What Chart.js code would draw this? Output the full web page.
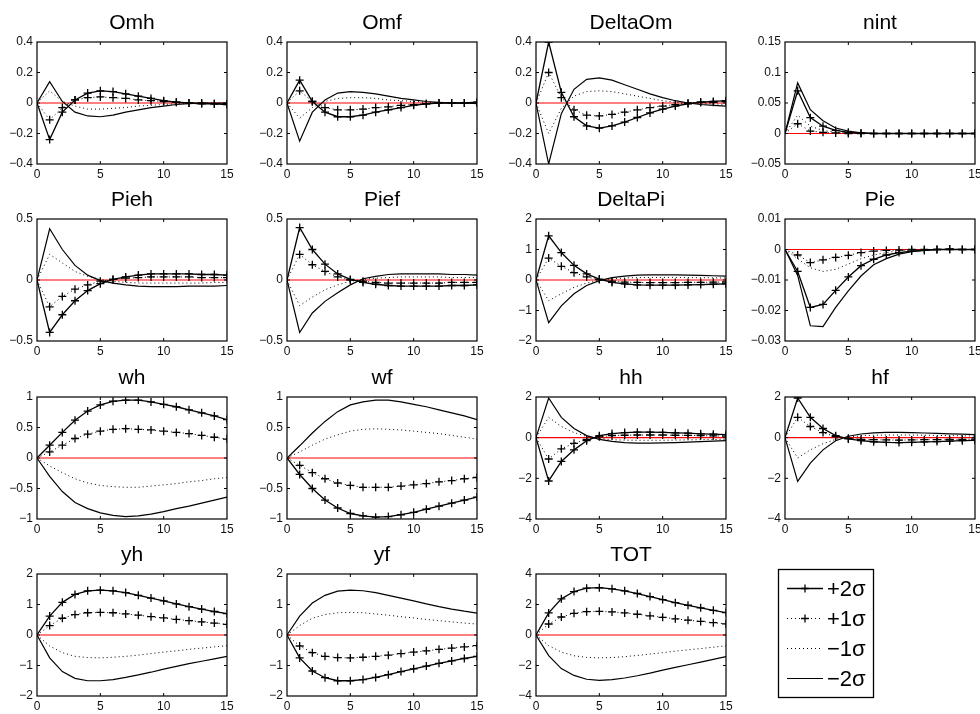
<!DOCTYPE html>
<html>
<head>
<meta charset="utf-8">
<script src="https://cdn.jsdelivr.net/npm/chart.js@4.4.1/dist/chart.umd.min.js"></script>
<style>
  html, body { margin: 0; padding: 0; background: #fff; }
  body { width: 980px; height: 714px; position: relative; overflow: hidden; }
  canvas { position: absolute; }
</style>
</head>
<body>
<script>
var steps = [0, 1, 2, 3, 4, 5, 6, 7, 8, 9, 10, 11, 12, 13, 14, 15]
var zero  = [0, 0, 0, 0, 0, 0, 0, 0, 0, 0, 0, 0, 0, 0, 0, 0]
var xTicks = [0, 5, 10, 15]
var seriesLabels = ['+2\u03c3', '+1\u03c3', '\u22121\u03c3', '\u22122\u03c3']

// Omh
var omhP2 = [0, -0.24, -0.06, 0.02, 0.065, 0.08, 0.075, 0.06, 0.045, 0.03, 0.015, 0.005, 0, -0.005, -0.005, -0.01]
var omhP1 = [0, -0.11, -0.03, 0.02, 0.035, 0.04, 0.035, 0.03, 0.02, 0.015, 0.01, 0.005, 0, 0, -0.005, -0.005]
var omhM1 = [0, 0.08, 0.01, -0.02, -0.04, -0.04, -0.035, -0.03, -0.02, -0.015, -0.01, -0.005, 0, 0, 0, 0]
var omhM2 = [0, 0.14, 0.01, -0.06, -0.085, -0.09, -0.08, -0.06, -0.045, -0.03, -0.02, -0.01, -0.005, 0, 0, 0]
// Omf
var omfP2 = [0, 0.15, 0.01, -0.06, -0.09, -0.09, -0.08, -0.06, -0.045, -0.03, -0.015, -0.005, 0, 0, 0, 0.005]
var omfP1 = [0, 0.08, 0.01, -0.03, -0.045, -0.045, -0.04, -0.03, -0.025, -0.015, -0.01, -0.005, 0, 0, 0, 0]
var omfM1 = [0, -0.1, -0.03, 0.01, 0.03, 0.035, 0.035, 0.03, 0.02, 0.015, 0.01, 0.005, 0, 0, 0, 0]
var omfM2 = [0, -0.25, -0.06, 0.02, 0.065, 0.075, 0.07, 0.06, 0.045, 0.03, 0.02, 0.01, 0.005, 0, 0, -0.005]
// DeltaOm
var dOmP2 = [0, 0.40, 0.07, -0.09, -0.15, -0.165, -0.15, -0.125, -0.095, -0.065, -0.04, -0.02, -0.005, 0.005, 0.01, 0.015]
var dOmP1 = [0, 0.20, 0.035, -0.045, -0.08, -0.085, -0.075, -0.06, -0.045, -0.03, -0.02, -0.01, 0, 0.005, 0.005, 0.01]
var dOmM1 = [0, -0.20, -0.035, 0.045, 0.075, 0.08, 0.075, 0.06, 0.045, 0.03, 0.015, 0.005, 0, -0.005, -0.005, -0.01]
var dOmM2 = [0, -0.40, -0.07, 0.09, 0.155, 0.165, 0.15, 0.12, 0.09, 0.06, 0.035, 0.015, 0, -0.01, -0.015, -0.02]
// nint
var nintP2 = [0, 0.070, 0.026, 0.012, 0.005, 0.002, 0.001, 0, 0, 0, 0, 0, 0, 0, 0, 0]
var nintP1 = [0, 0.016, 0.004, 0.002, 0.001, 0, 0, 0, 0, 0, 0, 0, 0, 0, 0, 0]
var nintM1 = [0, 0.03, 0.012, 0.005, 0.002, 0.001, 0, 0, 0, 0, 0, 0, 0, 0, 0, 0]
var nintM2 = [0, 0.083, 0.039, 0.021, 0.009, 0.004, 0.001, 0, 0, 0, 0, 0, 0, 0, 0, 0]
// Pieh
var piehP2 = [0, -0.43, -0.285, -0.17, -0.087, -0.03, 0.005, 0.025, 0.04, 0.05, 0.05, 0.05, 0.05, 0.045, 0.045, 0.04]
var piehP1 = [0, -0.22, -0.135, -0.075, -0.04, -0.01, 0.005, 0.015, 0.02, 0.025, 0.025, 0.025, 0.025, 0.02, 0.02, 0.02]
var piehM1 = [0, 0.21, 0.14, 0.07, 0.03, 0.005, -0.01, -0.02, -0.025, -0.025, -0.025, -0.025, -0.025, -0.025, -0.02, -0.02]
var piehM2 = [0, 0.42, 0.25, 0.12, 0.04, -0.005, -0.025, -0.04, -0.05, -0.055, -0.055, -0.055, -0.05, -0.05, -0.05, -0.045]
// Pief
var piefP2 = [0, 0.43, 0.25, 0.13, 0.05, 0.005, -0.02, -0.035, -0.045, -0.05, -0.05, -0.05, -0.05, -0.045, -0.045, -0.04]
var piefP1 = [0, 0.21, 0.125, 0.07, 0.025, 0, -0.01, -0.02, -0.025, -0.025, -0.025, -0.025, -0.025, -0.02, -0.02, -0.02]
var piefM1 = [0, -0.21, -0.14, -0.08, -0.04, -0.01, 0.005, 0.015, 0.02, 0.025, 0.025, 0.025, 0.025, 0.02, 0.02, 0.02]
var piefM2 = [0, -0.43, -0.27, -0.175, -0.105, -0.04, 0.01, 0.03, 0.045, 0.05, 0.05, 0.05, 0.05, 0.045, 0.045, 0.04]
// DeltaPi
var dPiP2 = [0, 1.45, 0.9, 0.48, 0.2, 0.03, -0.08, -0.13, -0.16, -0.17, -0.17, -0.17, -0.16, -0.15, -0.14, -0.13]
var dPiP1 = [0, 0.72, 0.45, 0.24, 0.1, 0.015, -0.04, -0.07, -0.08, -0.085, -0.085, -0.085, -0.08, -0.075, -0.07, -0.065]
var dPiM1 = [0, -0.68, -0.45, -0.24, -0.1, -0.01, 0.04, 0.065, 0.08, 0.085, 0.085, 0.085, 0.08, 0.075, 0.07, 0.065]
var dPiM2 = [0, -1.4, -0.85, -0.45, -0.18, -0.02, 0.08, 0.13, 0.16, 0.17, 0.17, 0.17, 0.16, 0.15, 0.14, 0.13]
// Pie
var pieP2 = [0, -0.0072, -0.019, -0.018, -0.0134, -0.009, -0.0053, -0.0032, -0.0018, -0.001, -0.0005, -0.0003, 0, 0, 0, 0]
var pieP1 = [0, -0.0018, -0.0043, -0.0034, -0.0026, -0.0019, -0.001, -0.0005, -0.0003, -0.0002, 0, 0, 0, 0.0002, 0, 0]
var pieM1 = [0, -0.003, -0.006, -0.0072, -0.0065, -0.0048, -0.003, -0.0018, -0.001, -0.0005, -0.0002, 0, 0, 0, 0, 0]
var pieM2 = [0, -0.0085, -0.025, -0.0253, -0.019, -0.0136, -0.0087, -0.005, -0.003, -0.0015, -0.0007, -0.0003, 0, 0, 0, 0]
// wh
var whP2 = [0, 0.21, 0.42, 0.62, 0.77, 0.87, 0.93, 0.95, 0.95, 0.92, 0.88, 0.84, 0.79, 0.74, 0.69, 0.63]
var whP1 = [0, 0.1, 0.21, 0.32, 0.39, 0.44, 0.47, 0.48, 0.47, 0.46, 0.44, 0.42, 0.4, 0.37, 0.34, 0.31]
var whM1 = [0, -0.13, -0.24, -0.34, -0.41, -0.45, -0.47, -0.48, -0.48, -0.46, -0.44, -0.42, -0.39, -0.37, -0.34, -0.32]
var whM2 = [0, -0.3, -0.55, -0.73, -0.83, -0.9, -0.94, -0.96, -0.95, -0.92, -0.88, -0.83, -0.79, -0.74, -0.69, -0.64]
// wf
var wfP2 = [0, -0.27, -0.5, -0.69, -0.82, -0.91, -0.95, -0.97, -0.96, -0.93, -0.89, -0.84, -0.79, -0.74, -0.69, -0.64]
var wfP1 = [0, -0.12, -0.24, -0.34, -0.41, -0.45, -0.48, -0.48, -0.48, -0.46, -0.44, -0.42, -0.39, -0.37, -0.34, -0.32]
var wfM1 = [0, 0.1, 0.21, 0.31, 0.38, 0.44, 0.47, 0.48, 0.47, 0.46, 0.44, 0.42, 0.4, 0.37, 0.34, 0.31]
var wfM2 = [0, 0.2, 0.41, 0.6, 0.76, 0.87, 0.92, 0.95, 0.95, 0.92, 0.88, 0.84, 0.79, 0.74, 0.69, 0.63]
// hh
var hhP2 = [0, -2.13, -1.17, -0.6, -0.15, 0.1, 0.2, 0.25, 0.27, 0.27, 0.26, 0.24, 0.22, 0.19, 0.17, 0.15]
var hhP1 = [0, -1.05, -0.55, -0.28, -0.08, 0.04, 0.1, 0.12, 0.13, 0.13, 0.13, 0.12, 0.11, 0.1, 0.09, 0.08]
var hhM1 = [0, 1.0, 0.55, 0.25, 0.06, -0.04, -0.1, -0.12, -0.13, -0.13, -0.13, -0.12, -0.11, -0.1, -0.09, -0.08]
var hhM2 = [0, 1.95, 1.0, 0.45, 0.1, -0.08, -0.18, -0.24, -0.27, -0.27, -0.26, -0.24, -0.22, -0.19, -0.17, -0.15]
// hf
var hfP2 = [0, 1.95, 1.0, 0.45, 0.1, -0.06, -0.15, -0.2, -0.23, -0.24, -0.23, -0.21, -0.19, -0.17, -0.15, -0.13]
var hfP1 = [0, 1.0, 0.55, 0.25, 0.05, -0.03, -0.08, -0.1, -0.11, -0.12, -0.11, -0.1, -0.1, -0.09, -0.08, -0.07]
var hfM1 = [0, -1.0, -0.6, -0.3, -0.08, 0.03, 0.09, 0.12, 0.13, 0.13, 0.13, 0.12, 0.11, 0.1, 0.09, 0.08]
var hfM2 = [0, -2.15, -1.25, -0.6, -0.15, 0.07, 0.18, 0.24, 0.26, 0.26, 0.25, 0.23, 0.21, 0.19, 0.17, 0.15]
// yh
var yhP2 = [0, 0.62, 1.07, 1.33, 1.45, 1.47, 1.45, 1.39, 1.3, 1.21, 1.12, 1.02, 0.93, 0.85, 0.77, 0.7]
var yhP1 = [0, 0.31, 0.55, 0.67, 0.73, 0.74, 0.73, 0.69, 0.65, 0.6, 0.56, 0.51, 0.47, 0.43, 0.39, 0.35]
var yhM1 = [0, -0.36, -0.58, -0.7, -0.74, -0.75, -0.73, -0.7, -0.66, -0.61, -0.56, -0.52, -0.47, -0.43, -0.39, -0.35]
var yhM2 = [0, -0.75, -1.2, -1.42, -1.5, -1.5, -1.46, -1.39, -1.31, -1.22, -1.12, -1.03, -0.94, -0.86, -0.78, -0.7]
// yf
var yfP2 = [0, -0.75, -1.18, -1.4, -1.5, -1.5, -1.46, -1.39, -1.3, -1.2, -1.11, -1.02, -0.93, -0.85, -0.77, -0.7]
var yfP1 = [0, -0.36, -0.58, -0.7, -0.74, -0.75, -0.73, -0.7, -0.66, -0.61, -0.56, -0.52, -0.47, -0.43, -0.39, -0.35]
var yfM1 = [0, 0.31, 0.55, 0.67, 0.73, 0.74, 0.73, 0.69, 0.65, 0.6, 0.56, 0.51, 0.47, 0.43, 0.39, 0.36]
var yfM2 = [0, 0.62, 1.05, 1.3, 1.44, 1.47, 1.45, 1.39, 1.3, 1.21, 1.12, 1.02, 0.93, 0.85, 0.78, 0.72]
// TOT
var totP2 = [0, 1.45, 2.37, 2.85, 3.07, 3.1, 3.03, 2.9, 2.72, 2.52, 2.32, 2.12, 1.95, 1.78, 1.62, 1.47]
var totP1 = [0, 0.72, 1.18, 1.42, 1.53, 1.55, 1.51, 1.45, 1.36, 1.26, 1.16, 1.06, 0.97, 0.89, 0.81, 0.73]
var totM1 = [0, -0.7, -1.12, -1.36, -1.47, -1.5, -1.48, -1.42, -1.34, -1.25, -1.16, -1.06, -0.97, -0.89, -0.8, -0.71]
var totM2 = [0, -1.35, -2.2, -2.65, -2.9, -2.97, -2.93, -2.82, -2.67, -2.5, -2.3, -2.12, -1.95, -1.78, -1.6, -1.42]

var panels = [
  { title: 'Omh',     series: [omhP2, omhP1, omhM1, omhM2],     min: -0.4,  max: 0.4,  step: 0.2 },
  { title: 'Omf',     series: [omfP2, omfP1, omfM1, omfM2],     min: -0.4,  max: 0.4,  step: 0.2 },
  { title: 'DeltaOm', series: [dOmP2, dOmP1, dOmM1, dOmM2],     min: -0.4,  max: 0.4,  step: 0.2 },
  { title: 'nint',    series: [nintP2, nintP1, nintM1, nintM2], min: -0.05, max: 0.15, step: 0.05 },
  { title: 'Pieh',    series: [piehP2, piehP1, piehM1, piehM2], min: -0.5,  max: 0.5,  step: 0.5 },
  { title: 'Pief',    series: [piefP2, piefP1, piefM1, piefM2], min: -0.5,  max: 0.5,  step: 0.5 },
  { title: 'DeltaPi', series: [dPiP2, dPiP1, dPiM1, dPiM2],     min: -2,    max: 2,    step: 1 },
  { title: 'Pie',     series: [pieP2, pieP1, pieM1, pieM2],     min: -0.03, max: 0.01, step: 0.01 },
  { title: 'wh',      series: [whP2, whP1, whM1, whM2],         min: -1,    max: 1,    step: 0.5 },
  { title: 'wf',      series: [wfP2, wfP1, wfM1, wfM2],         min: -1,    max: 1,    step: 0.5 },
  { title: 'hh',      series: [hhP2, hhP1, hhM1, hhM2],         min: -4,    max: 2,    step: 2 },
  { title: 'hf',      series: [hfP2, hfP1, hfM1, hfM2],         min: -4,    max: 2,    step: 2 },
  { title: 'yh',      series: [yhP2, yhP1, yhM1, yhM2],         min: -2,    max: 2,    step: 1 },
  { title: 'yf',      series: [yfP2, yfP1, yfM1, yfM2],         min: -2,    max: 2,    step: 1 },
  { title: 'TOT',     series: [totP2, totP1, totM1, totM2],     min: -4,    max: 4,    step: 2 }
]

// layout of the 4x4 grid (plot-area corners, in page pixels)
var colLeft = [37, 287, 536, 785]
var rowTop  = [42, 219, 397, 574]
var plotW = 190, plotH = 122
var padL = 40, padT = 40, padR = 12, padB = 20

var FONT = "'Liberation Sans', Arial, Helvetica, sans-serif"
Chart.defaults.font.family = FONT
Chart.defaults.color = '#000'

// line styles for +2s, +1s, -1s, -2s
var styles = [
  { borderWidth: 1.3, borderDash: [],     pointStyle: 'cross', markers: true },
  { borderWidth: 1,   borderDash: [1, 3], pointStyle: 'cross', markers: true },
  { borderWidth: 1,   borderDash: [1, 3], pointStyle: false,   markers: false },
  { borderWidth: 1.2, borderDash: [],     pointStyle: false,   markers: false }
]

function fmt(v) {
  var s = String(Math.round(v * 10000) / 10000)
  return s.replace('-', '\u2212')
}

// MATLAB-like box with inward ticks + title above the plot area
var framePlugin = {
  id: 'frame',
  afterDatasetsDraw: function (chart, args, opts) {
    var a = chart.chartArea, ctx = chart.ctx
    ctx.save()
    ctx.strokeStyle = '#000'
    ctx.lineWidth = 1.2
    ctx.strokeRect(a.left, a.top, a.right - a.left, a.bottom - a.top)
    ctx.lineWidth = 1
    ctx.beginPath()
    chart.scales.x.ticks.forEach(function (t) {
      var px = chart.scales.x.getPixelForValue(t.value)
      if (Math.abs(px - a.left) < 1 || Math.abs(px - a.right) < 1) return
      ctx.moveTo(px, a.bottom); ctx.lineTo(px, a.bottom - 3)
      ctx.moveTo(px, a.top);    ctx.lineTo(px, a.top + 3)
    })
    chart.scales.y.ticks.forEach(function (t) {
      var py = chart.scales.y.getPixelForValue(t.value)
      if (Math.abs(py - a.top) < 1 || Math.abs(py - a.bottom) < 1) return
      ctx.moveTo(a.left, py);  ctx.lineTo(a.left + 3, py)
      ctx.moveTo(a.right, py); ctx.lineTo(a.right - 3, py)
    })
    ctx.stroke()
    ctx.fillStyle = '#000'
    ctx.font = '21px ' + FONT
    ctx.textAlign = 'center'
    ctx.textBaseline = 'alphabetic'
    ctx.fillText(opts.title, (a.left + a.right) / 2, a.top - 13)
    ctx.restore()
  }
}

function addCanvas(left, top, w, h) {
  var c = document.createElement('canvas')
  c.width = w
  c.height = h
  c.style.left = left + 'px'
  c.style.top = top + 'px'
  document.body.appendChild(c)
  return c
}

function buildDatasets(p) {
  var sets = p.series.map(function (vals, i) {
    var st = styles[i]
    return {
      label: seriesLabels[i],
      data: vals,
      borderColor: '#000',
      borderWidth: st.borderWidth,
      borderDash: st.borderDash,
      tension: 0,
      pointStyle: st.pointStyle || 'circle',
      pointRadius: st.markers ? function (ctx) { return ctx.dataIndex === 0 ? 0 : 4 } : 0,
      pointBorderColor: '#000',
      pointBorderWidth: 1.3,
      pointBackgroundColor: '#000'
    }
  })
  // zero reference line, drawn underneath
  sets.push({
    label: 'zero',
    data: zero,
    borderColor: '#ff0000',
    borderWidth: 1.2,
    pointRadius: 0,
    tension: 0
  })
  return sets
}

panels.forEach(function (p, i) {
  var col = i % 4, row = Math.floor(i / 4)
  var canvas = addCanvas(colLeft[col] - padL, rowTop[row] - padT,
                         padL + plotW + padR, padT + plotH + padB)
  new Chart(canvas, {
    type: 'line',
    data: { labels: steps, datasets: buildDatasets(p) },
    options: {
      responsive: false,
      animation: false,
      events: [],
      layout: { padding: { left: 0, top: padT, right: padR, bottom: 0 } },
      plugins: {
        legend: { display: false },
        tooltip: { enabled: false },
        frame: { title: p.title }
      },
      scales: {
        x: {
          type: 'linear',
          min: 0,
          max: 15,
          afterBuildTicks: function (scale) {
            scale.ticks = xTicks.map(function (v) { return { value: v } })
          },
          afterFit: function (scale) { scale.height = padB },
          grid: { display: false, drawTicks: false },
          border: { display: false },
          ticks: { padding: 3, font: { size: 12 }, color: '#111', maxRotation: 0 }
        },
        y: {
          min: p.min,
          max: p.max,
          afterFit: function (scale) { scale.width = padL },
          grid: { display: false, drawTicks: false },
          border: { display: false },
          ticks: {
            stepSize: p.step,
            padding: 4,
            autoSkip: false,
            font: { size: 12 },
            color: '#111',
            callback: function (v) { return fmt(v) }
          }
        }
      }
    },
    plugins: [framePlugin]
  })
})

// legend in the 16th cell
var legendPlugin = {
  id: 'sigmaLegend',
  afterDraw: function (chart) {
    var ctx = chart.ctx
    ctx.save()
    ctx.strokeStyle = '#000'
    ctx.lineWidth = 1.3
    ctx.strokeRect(8.5, 9.5, 95, 128)
    ctx.font = '22px ' + FONT
    ctx.textAlign = 'left'
    ctx.textBaseline = 'middle'
    ctx.fillStyle = '#000'
    chart.data.datasets.forEach(function (ds, i) {
      var y = 28.5 + i * 30
      ctx.lineWidth = ds.borderWidth
      ctx.setLineDash(ds.borderDash)
      ctx.beginPath()
      ctx.moveTo(17, y); ctx.lineTo(53, y)
      ctx.stroke()
      ctx.setLineDash([])
      if (ds.pointStyle === 'cross') {
        ctx.lineWidth = 1.3
        ctx.beginPath()
        ctx.moveTo(31, y); ctx.lineTo(39, y)
        ctx.moveTo(35, y - 4); ctx.lineTo(35, y + 4)
        ctx.stroke()
      }
      ctx.fillText(ds.label, 57, y + 1)
    })
    ctx.restore()
  }
}

var legendCanvas = addCanvas(770, 560, 120, 145)
new Chart(legendCanvas, {
  type: 'line',
  data: {
    labels: [],
    datasets: seriesLabels.map(function (lab, i) {
      return { label: lab, data: [], borderWidth: styles[i].borderWidth,
               borderDash: styles[i].borderDash, pointStyle: styles[i].pointStyle }
    })
  },
  options: {
    responsive: false,
    animation: false,
    events: [],
    plugins: { legend: { display: false }, tooltip: { enabled: false } },
    scales: { x: { display: false }, y: { display: false } }
  },
  plugins: [legendPlugin]
})
</script>
</body>
</html>
